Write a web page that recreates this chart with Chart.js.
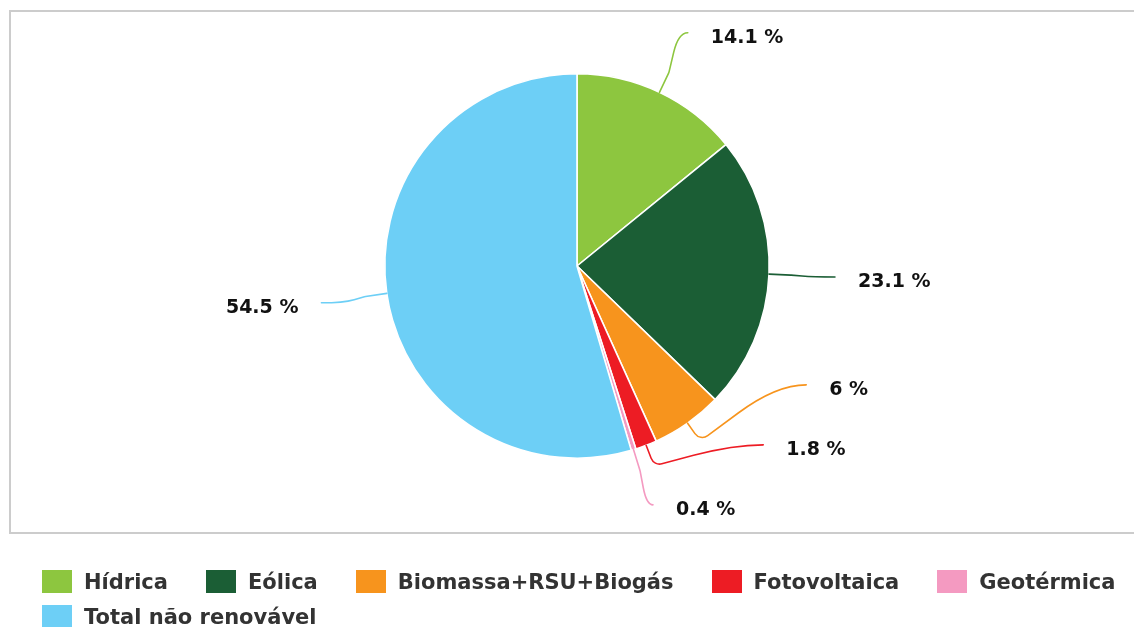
<!DOCTYPE html>
<html>
<head>
<meta charset="utf-8">
<script src="https://cdn.jsdelivr.net/npm/chart.js@4.4.0/dist/chart.umd.min.js"></script>
<style>
  body { margin: 0; background: #fff; font-family: "DejaVu Sans", sans-serif; }
  #wrap { position: relative; width: 1134px; height: 627px; overflow: hidden; }
  #frame { position: absolute; left: 9px; top: 10px; width: 1140px; height: 520px; border: 2px solid #ccc; }
  #chart { position: absolute; left: 0; top: 0; }
  #legend { position: absolute; left: 42px; top: 564px; width: 1092px; display: flex; flex-wrap: wrap; column-gap: 38px;
            font: bold 21px "DejaVu Sans", sans-serif; color: #333; }
  .item { display: flex; align-items: center; height: 35px; white-space: nowrap; }
  .box { width: 30px; height: 23px; margin-right: 12px; }
</style>
</head>
<body>
<div id="wrap">
  <div id="frame"></div>
  <canvas id="chart" width="1134" height="627"></canvas>
  <div id="legend"></div>
</div>
<script>
const labels = ["Hídrica", "Eólica", "Biomassa+RSU+Biogás", "Fotovoltaica", "Geotérmica", "Total não renovável"];
const shares = [14.1, 23.1, 6, 1.8, 0.4, 54.5];
const colors = ["#8dc63f", "#1b5e35", "#f7941d", "#ed1c24", "#f49ac1", "#6dcff6"];

// leader lines + value labels around the pie
const pieLabels = {
  id: "pieLabels",
  afterDatasetsDraw(chart) {
    const ctx = chart.ctx;
    const arcs = chart.getDatasetMeta(0).data;
    const gap = 60;
    const items = arcs.map((arc, i) => {
      const mid = (arc.startAngle + arc.endAngle) / 2;
      const r = arc.outerRadius;
      const rl = r + 66;
      return {
        i, mid, cx: arc.x, cy: arc.y, r, rl,
        ex: arc.x + Math.cos(mid) * r, ey: arc.y + Math.sin(mid) * r,
        x: arc.x + Math.cos(mid) * rl,
        y: arc.y + Math.sin(mid) * rl,
        right: Math.cos(mid) >= 0,
        moved: false
      };
    });

    // keep labels off the bottom and push them up so they don't overlap
    [true, false].forEach(side => {
      const list = items.filter(d => d.right === side).sort((a, b) => b.y - a.y);
      list.forEach(d => { d.y = Math.min(d.y, d.cy + d.rl * 0.925); });
      for (let k = 1; k < list.length; k++) {
        if (list[k].y > list[k - 1].y - gap) {
          list[k].y = list[k - 1].y - gap;
          list[k].moved = true;
        }
      }
    });

    ctx.save();
    items.forEach(d => {
      const sign = d.right ? 1 : -1;
      let lx = d.x;
      if (d.moved) {
        const dy = d.y - d.cy;
        lx = d.cx + sign * Math.sqrt(Math.max(d.rl * d.rl - dy * dy, 0));
      }
      const ly = d.y;
      const p1x = d.ex + Math.cos(d.mid) * 22;
      const p1y = d.ey + Math.sin(d.mid) * 22;
      const off = Math.max(Math.min(30, sign * (lx - p1x) * 0.5), 4);
      const qx = lx - sign * off;
      const qy = ly;

      ctx.strokeStyle = colors[d.i];
      ctx.lineWidth = 1.6;
      ctx.lineCap = "round";
      ctx.beginPath();
      ctx.moveTo(d.ex, d.ey);
      ctx.arcTo(p1x, p1y, qx, qy, 9);
      ctx.lineTo(p1x + (qx - p1x) * 0.5, p1y + (qy - p1y) * 0.5);
      ctx.quadraticCurveTo(qx, qy, lx, ly);
      ctx.stroke();

      ctx.fillStyle = "#111";
      ctx.font = "bold 19px 'DejaVu Sans', sans-serif";
      ctx.textBaseline = "middle";
      ctx.textAlign = d.right ? "left" : "right";
      ctx.fillText(shares[d.i] + " %", lx + sign * 23, ly + 5);
    });
    ctx.restore();
  }
};

new Chart(document.getElementById("chart"), {
  type: "pie",
  data: {
    labels: labels,
    datasets: [{
      data: shares,
      backgroundColor: colors,
      borderColor: "#fff",
      borderWidth: 1.6
    }]
  },
  options: {
    responsive: false,
    animation: false,
    events: [],
    layout: { padding: { left: 384, right: 364, top: 73, bottom: 168 } },
    plugins: {
      legend: { display: false },
      tooltip: { enabled: false }
    }
  },
  plugins: [pieLabels]
});

const legend = document.getElementById("legend");
labels.forEach((name, i) => {
  const item = document.createElement("div");
  item.className = "item";
  const box = document.createElement("span");
  box.className = "box";
  box.style.background = colors[i];
  item.appendChild(box);
  item.appendChild(document.createTextNode(name));
  legend.appendChild(item);
});
</script>
</body>
</html>
